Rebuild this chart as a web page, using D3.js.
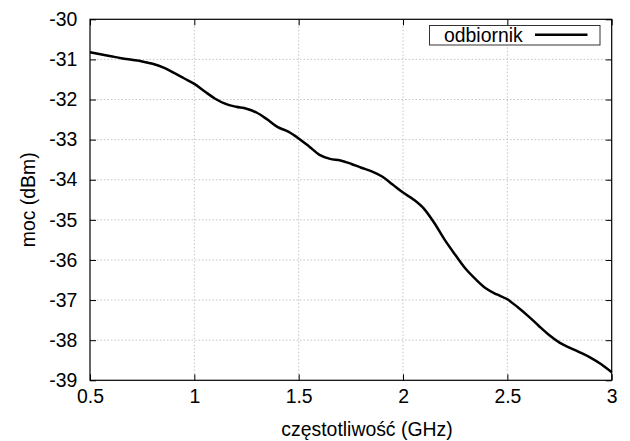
<!DOCTYPE html>
<html>
<head>
<meta charset="utf-8">
<script src="https://cdn.jsdelivr.net/npm/d3@7"></script>
<style>
  html, body { margin: 0; padding: 0; background: #fff; }
  svg { display: block; }
  text { font-family: "Liberation Sans", Arial, Helvetica, sans-serif; fill: #000; }
</style>
</head>
<body>
<svg id="chart" width="630" height="441"></svg>
<script>
// Data
const frequencyGHz = [0.50,0.55,0.60,0.65,0.70,0.75,0.80,0.85,0.90,0.95,
  1.00,1.05,1.10,1.15,1.20,1.25,1.30,1.35,1.40,1.45,
  1.50,1.55,1.60,1.65,1.70,1.75,1.80,1.85,1.90,1.95,
  2.00,2.05,2.10,2.15,2.20,2.25,2.30,2.35,2.40,2.45,
  2.50,2.55,2.60,2.65,2.70,2.75,2.80,2.85,2.90,2.95,3.00];
const powerDbm = [-30.82,-30.87,-30.92,-30.97,-31.01,-31.05,-31.11,-31.20,-31.33,-31.47,
  -31.61,-31.80,-31.98,-32.11,-32.18,-32.23,-32.33,-32.50,-32.69,-32.80,
  -32.97,-33.17,-33.38,-33.48,-33.52,-33.60,-33.70,-33.79,-33.92,-34.12,
  -34.32,-34.49,-34.72,-35.08,-35.50,-35.87,-36.22,-36.49,-36.72,-36.86,
  -36.98,-37.18,-37.40,-37.64,-37.87,-38.06,-38.19,-38.31,-38.44,-38.60,-38.80];
const xTicks = [0.5, 1, 1.5, 2, 2.5, 3];
const yTicks = [-30, -31, -32, -33, -34, -35, -36, -37, -38, -39];
const seriesName = "odbiornik";
const xLabel = "częstotliwość (GHz)";
const yLabel = "moc (dBm)";

(function () {
const svg = d3.select("#chart");
const pl = 90, pr = 611.7, pt = 19.3, pb = 380.3;
const fs = 19.4;

const x = d3.scaleLinear().domain([0.5, 3]).range([pl, pr]);
const y = d3.scaleLinear().domain([-39, -30]).range([pb, pt]);

// grid
const grid = svg.append("g").attr("stroke", "#b8b8b8").attr("stroke-width", 0.8)
  .attr("stroke-dasharray", "1.5,2");
xTicks.slice(1, -1).forEach(t => {
  grid.append("line").attr("x1", x(t)).attr("x2", x(t)).attr("y1", pt).attr("y2", pb);
});
yTicks.slice(1, -1).forEach(t => {
  grid.append("line").attr("x1", pl).attr("x2", pr).attr("y1", y(t)).attr("y2", y(t));
});

// axes with inward ticks (mirrored)
const tickLen = 6;
const fmt = d => String(d);
const gB = svg.append("g").attr("transform", `translate(0,${pb})`)
  .call(d3.axisBottom(x).tickValues(xTicks).tickSizeInner(-tickLen).tickSizeOuter(0).tickPadding(9).tickFormat(fmt));
const gT = svg.append("g").attr("transform", `translate(0,${pt})`)
  .call(d3.axisTop(x).tickValues(xTicks).tickSizeInner(-tickLen).tickSizeOuter(0).tickFormat(""));
const gL = svg.append("g").attr("transform", `translate(${pl},0)`)
  .call(d3.axisLeft(y).tickValues(yTicks).tickSizeInner(-tickLen).tickSizeOuter(0).tickPadding(12.7).tickFormat(fmt));
const gR = svg.append("g").attr("transform", `translate(${pr},0)`)
  .call(d3.axisRight(y).tickValues(yTicks).tickSizeInner(-tickLen).tickSizeOuter(0).tickFormat(""));
[gB, gT, gL, gR].forEach(g => {
  g.select(".domain").remove();
  g.selectAll(".tick line").attr("stroke", "#000").attr("stroke-width", 1);
  g.selectAll("text").attr("font-size", fs).attr("font-family", "Liberation Sans, Arial, sans-serif").attr("fill", "#000");
});
gB.selectAll(".tick text").attr("dy", "0.71em");

// frame
svg.append("rect").attr("x", pl).attr("y", pt)
  .attr("width", pr - pl).attr("height", pb - pt)
  .attr("fill", "none").attr("stroke", "#000").attr("stroke-width", 1.2);

// line
const line = d3.line().x((d, i) => x(frequencyGHz[i])).y(d => y(d)).curve(d3.curveMonotoneX);
svg.append("path").datum(powerDbm).attr("d", line)
  .attr("fill", "none").attr("stroke", "#000").attr("stroke-width", 2.5).attr("stroke-linejoin", "round");

// legend
const lg = svg.append("g");
lg.append("rect").attr("x", 429.5).attr("y", 25.5).attr("width", 170.5).attr("height", 19.5)
  .attr("fill", "#fff").attr("stroke", "#333").attr("stroke-width", 1);
lg.append("text").attr("x", 444).attr("y", 41.5).attr("font-size", fs).text(seriesName);
lg.append("line").attr("x1", 535).attr("x2", 587.5).attr("y1", 34.7).attr("y2", 34.7)
  .attr("stroke", "#000").attr("stroke-width", 2.5);

// axis labels
svg.append("text").attr("x", 367).attr("y", 436).attr("text-anchor", "middle")
  .attr("font-size", fs).text(xLabel);
svg.append("text").attr("transform", `translate(35,${(pt + pb) / 2}) rotate(-90)`)
  .attr("text-anchor", "middle").attr("font-size", fs).text(yLabel);
})();
</script>
</body>
</html>
